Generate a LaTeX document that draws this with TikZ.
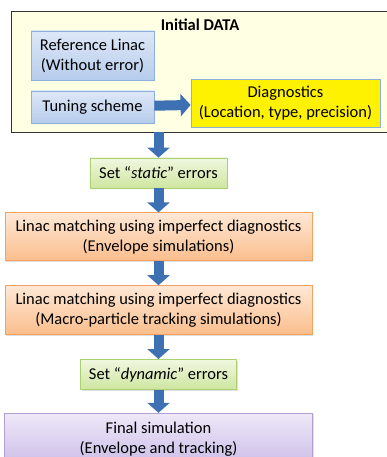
\documentclass[tikz,border=0pt]{standalone}
\usepackage{fontspec}
\setmainfont{Carlito}
\usepackage{tikz}
\usepackage{xcolor}
\usetikzlibrary{positioning,shadows,arrows.meta}

\definecolor{pblue}{RGB}{140,175,220}
\definecolor{arrowblue}{RGB}{62,112,180}

\begin{document}
\begin{tikzpicture}[x=1pt,y=-1pt,node distance=24pt,
  font=\fontsize{16.5}{20}\selectfont]
  \tikzstyle{box}=[rectangle,align=center,inner sep=2pt,line width=0.8pt,
    drop shadow={opacity=0.25,shadow xshift=1.2pt,shadow yshift=-1.2pt}]
  \tikzstyle{bluebox}=[box,draw=pblue,top color={rgb,255:red,222;green,232;blue,247},bottom color={rgb,255:red,182;green,204;blue,236}]
  \tikzstyle{greenbox}=[box,draw={rgb,255:red,170;green,208;blue,112},top color={rgb,255:red,240;green,247;blue,224},bottom color={rgb,255:red,206;green,230;blue,160}]
  \tikzstyle{orangebox}=[box,draw={rgb,255:red,245;green,160;blue,92},top color={rgb,255:red,254;green,232;blue,214},bottom color={rgb,255:red,251;green,190;blue,140}]
  \tikzstyle{purplebox}=[box,draw={rgb,255:red,178;green,160;blue,208},top color={rgb,255:red,238;green,232;blue,248},bottom color={rgb,255:red,205;green,190;blue,232}]
  \tikzstyle{bigarrow}=[line width=10pt,arrowblue,-{Triangle[width=22pt,length=10pt]}]
  \useasboundingbox (0,0) rectangle (387,457);
  \clip (0,0) rectangle (387,457);
  % initial data
  \node[box,draw=black!80,fill={rgb,255:red,255;green,255;blue,228},minimum width=378pt,minimum height=121pt] (data) at (200,71.5) {};
  \node[anchor=base,font=\fontsize{16.5}{20}\selectfont\bfseries] (title) at (200,31) {Initial DATA};
  \node[bluebox,minimum width=123pt,minimum height=49pt] (ref) at (92.5,55.5) {Reference Linac\\(Without error)};
  \node[bluebox,minimum width=123pt,minimum height=32pt] (tune) at (92.5,107) {Tuning scheme};
  \node[box,draw=pblue,fill=yellow,minimum width=189pt,minimum height=48pt] (diag) at (285.5,103) {Diagnostics\\(Location, type, precision)};
  % simulation chain
  \node[greenbox,minimum width=137pt,minimum height=30pt] (static) at (158.5,173) {Set ``\textit{static}'' errors};
  \node[orangebox,minimum width=307pt,minimum height=48pt] (env) [below=of static] {Linac matching using imperfect diagnostics\\(Envelope simulations)};
  \node[orangebox,minimum width=307pt,minimum height=49pt] (track) [below=of env] {Linac matching using imperfect diagnostics\\(Macro-particle tracking simulations)};
  \node[greenbox,minimum width=156pt,minimum height=30pt] (dynamic) [below=of track] {Set ``\textit{dynamic}'' errors};
  \node[purplebox,minimum width=308pt,minimum height=51pt] (final) [below=23pt of dynamic] {Final simulation\\(Envelope and tracking)};
  \draw[bigarrow] (tune) -- (diag);
  \draw[bigarrow] (static.north |- data.south) -- (static);
  \draw[bigarrow] (static) -- (env);
  \draw[bigarrow] (env) -- (track);
  \draw[bigarrow] (track) -- (dynamic);
  \draw[bigarrow] (dynamic) -- (final);
\end{tikzpicture}
\end{document}
